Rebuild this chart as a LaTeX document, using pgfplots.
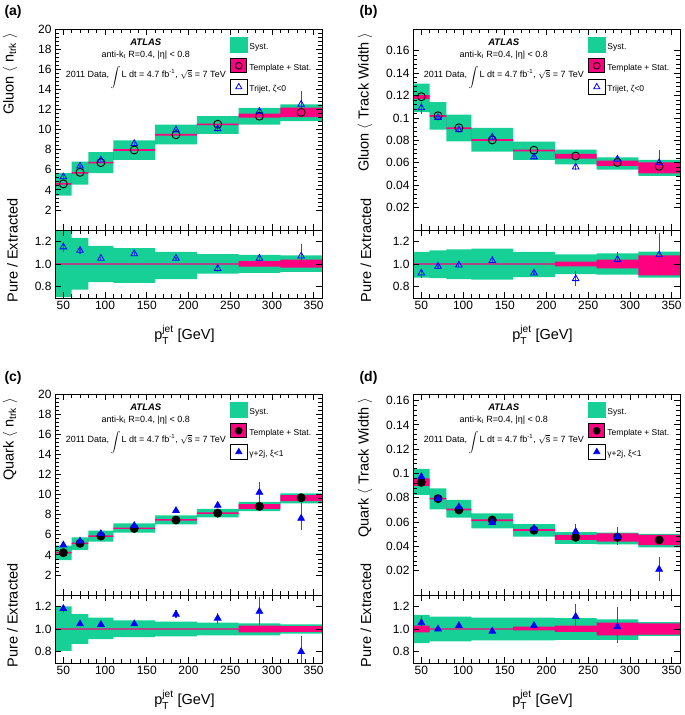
\documentclass[border=0pt]{standalone}
\usepackage{amsmath}
\usepackage{pgfplots}
\pgfplotsset{compat=1.18}
\usepackage{pgfplotstable}
\usepgfplotslibrary{fillbetween}
\usepackage{fontspec}
\setmainfont{Liberation Sans}
\definecolor{syst}{RGB}{22,208,150}
\definecolor{stat}{RGB}{255,0,128}
\definecolor{tri}{RGB}{0,0,255}
\definecolor{trierr}{RGB}{45,65,255}

% ---------- Gluon n_trk ----------
\pgfplotstableread{
e    slo    shi    tlo    thi
40   3.43   5.67   4.52   4.68
60   4.53   6.83   5.62   5.78
80   5.67   7.77   6.64   6.80
110  7.00   8.93   7.90   8.06
160  8.53   10.50  9.42   9.58
210  9.60   11.37  10.45  10.61
260  10.50  12.17  11.20  11.60
310  10.87  12.53  11.27  12.20
360  10.87  12.53  11.27  12.20
}\bandA
\pgfplotstableread{
x    m      p      pp    pm
50   4.60   5.30   0.20  0.20
70   5.75   6.37   0.15  0.15
95   6.72   6.98   0.12  0.12
135  7.98   8.62   0.15  0.15
185  9.50   9.97   0.15  0.15
235  10.55  10.10  0.35  0.30
285  11.35  11.83  0.35  0.30
335  11.73  12.53  1.30  1.10
}\ptsA
\pgfplotstableread{
e    slo    shi    tlo    thi
40   0.710  1.290  0.994  1.006
60   0.773  1.230  0.994  1.006
80   0.840  1.160  0.994  1.006
110  0.833  1.139  0.994  1.006
160  0.866  1.108  0.994  1.006
210  0.916  1.087  0.994  1.006
260  0.922  1.080  0.977  1.026
310  0.930  1.077  0.968  1.038
360  0.930  1.077  0.968  1.038
}\rbandA
\pgfplotstableread{
x    p     pp     pm
50   1.15  0.045  0.045
70   1.12  0.030  0.030
95   1.05  0.015  0.015
135  1.09  0.015  0.015
185  1.05  0.015  0.015
235  0.96  0.035  0.035
285  1.05  0.035  0.030
335  1.07  0.110  0.090
}\rptsA

% ---------- Gluon track width ----------
\pgfplotstableread{
e    slo     shi     tlo     thi
40   0.1053  0.1307  0.1170  0.1205
60   0.0897  0.1142  0.1009  0.1025
80   0.0792  0.1029  0.0901  0.0917
110  0.0700  0.0912  0.0796  0.0812
160  0.0625  0.0789  0.0701  0.0717
210  0.0586  0.0718  0.0637  0.0679
260  0.0538  0.0649  0.0572  0.0620
310  0.0484  0.0625  0.0505  0.0604
360  0.0484  0.0625  0.0505  0.0604
}\bandB
\pgfplotstableread{
x    m       p       pp      pm
50   0.1190  0.1090  0.0050  0.0050
70   0.1020  0.1003  0.0015  0.0015
95   0.0912  0.0894  0.0015  0.0015
135  0.0804  0.0828  0.0020  0.0020
185  0.0712  0.0652  0.0015  0.0015
235  0.0660  0.0562  0.0030  0.0030
285  0.0603  0.0632  0.0035  0.0035
335  0.0568  0.0600  0.0115  0.0065
}\ptsB
\pgfplotstableread{
e    slo    shi    tlo    thi
40   0.879  1.108  0.994  1.006
60   0.876  1.120  0.994  1.006
80   0.867  1.130  0.994  1.006
110  0.861  1.136  0.994  1.006
160  0.885  1.108  0.994  1.006
210  0.910  1.084  0.978  1.020
260  0.907  1.093  0.962  1.038
310  0.879  1.110  0.900  1.075
360  0.879  1.110  0.900  1.075
}\rbandB
\pgfplotstableread{
x    p     pp     pm
50   0.92  0.040  0.040
70   0.98  0.020  0.020
95   0.99  0.015  0.015
135  1.03  0.020  0.020
185  0.92  0.020  0.020
235  0.87  0.065  0.060
285  1.04  0.070  0.070
335  1.08  0.190  0.180
}\rptsB

% ---------- Quark n_trk ----------
\pgfplotstableread{
e    slo    shi    tlo    thi
40   3.49   4.92   4.15   4.29
60   4.49   5.75   5.08   5.22
80   5.32   6.41   5.81   5.95
110  6.21   7.14   6.59   6.73
160  7.04   7.94   7.42   7.56
210  7.74   8.60   8.10   8.24
260  8.37   9.30   8.60   9.07
310  9.14   10.13  9.37   9.97
360  9.14   10.13  9.37   9.97
}\bandC
\pgfplotstableread{
x    m      p      pp    pm
50   4.22   4.98   0.15  0.15
70   5.15   5.38   0.15  0.15
95   5.88   6.12   0.12  0.12
135  6.64   6.92   0.12  0.12
185  7.48   8.41   0.15  0.15
235  8.17   8.94   0.36  0.30
285  8.84   10.23  1.07  1.09
335  9.70   7.64   2.16  1.16
}\ptsC
\pgfplotstableread{
e    slo    shi    tlo    thi
40   0.806  1.200  0.994  1.006
60   0.869  1.131  0.994  1.006
80   0.911  1.100  0.994  1.006
110  0.929  1.077  0.994  1.006
160  0.935  1.065  0.994  1.006
210  0.944  1.056  0.994  1.006
260  0.944  1.050  0.970  1.030
310  0.960  1.040  0.974  1.026
360  0.960  1.040  0.974  1.026
}\rbandC
\pgfplotstableread{
x    p      pp     pm
50   1.180  0.030  0.035
70   1.045  0.015  0.015
95   1.040  0.015  0.015
135  1.045  0.015  0.015
185  1.130  0.035  0.030
235  1.095  0.050  0.055
285  1.155  0.130  0.120
335  0.800  0.140  0.180
}\rptsC

% ---------- Quark track width ----------
\pgfplotstableread{
e    slo     shi     tlo     thi
40   0.0823  0.1037  0.0897  0.0960
60   0.0705  0.0878  0.0786  0.0800
80   0.0637  0.0782  0.0696  0.0710
110  0.0549  0.0672  0.0608  0.0622
160  0.0480  0.0584  0.0528  0.0542
210  0.0420  0.0518  0.0453  0.0494
260  0.0417  0.0513  0.0439  0.0507
310  0.0392  0.0502  0.0411  0.0494
360  0.0392  0.0502  0.0411  0.0494
}\bandD
\pgfplotstableread{
x    m       p       pp      pm
50   0.0927  0.0974  0.0040  0.0040
70   0.0793  0.0793  0.0015  0.0015
95   0.0700  0.0725  0.0015  0.0015
135  0.0617  0.0597  0.0015  0.0015
185  0.0533  0.0549  0.0015  0.0015
235  0.0475  0.0521  0.0060  0.0063
285  0.0475  0.0480  0.0082  0.0069
335  0.0453  0.0211  0.0104  0.0093
}\ptsD
\pgfplotstableread{
e    slo    shi    tlo    thi
40   0.875  1.125  0.970  1.030
60   0.890  1.110  0.994  1.006
80   0.890  1.110  0.994  1.006
110  0.900  1.100  0.994  1.006
160  0.900  1.100  0.987  1.020
210  0.905  1.095  0.974  1.030
260  0.905  1.086  0.944  1.056
310  0.940  1.060  0.950  1.050
360  0.940  1.060  0.950  1.050
}\rbandD
\pgfplotstableread{
x    p      pp     pm
50   1.055  0.060  0.045
70   1.000  0.020  0.020
95   1.030  0.015  0.015
135  0.980  0.015  0.015
185  1.030  0.025  0.025
235  1.110  0.110  0.095
285  1.020  0.170  0.145
335  0.470  0.200  0.200
}\rptsD

\pgfplotsset{
  base/.style={scale only axis, width=267pt, xmin=40, xmax=360,
    anchor=north west, axis on top,
    axis line style={line width=0.9pt},
    tick style={black, line width=0.8pt},
    major tick length=6pt, minor tick length=4pt,
    xtick={50,100,...,350}, minor x tick num=4,
    tick align=inside, scaled ticks=false,
    /pgf/number format/assume math mode=true,
    tick label style={font=\fontsize{12}{12}\selectfont},
    label style={font=\fontsize{14.5}{15}\selectfont},
  },
  mainax/.style={base, height=200.5pt, xticklabel=\empty, minor y tick num=4,
    ylabel style={anchor=east},
    legend cell align=left,
    legend style={at={(axis description cs:0.655,0.963)}, anchor=north west,
      draw=none, fill=none, inner sep=0pt, row sep=5pt,
      font=\fontsize{8.5}{9}\selectfont},
  },
  ratioax/.style={base, height=68pt, ymin=0.7, ymax=1.3, ytick={0.8,1,1.2},
    yticklabel style={/pgf/number format/.cd, fixed, fixed zerofill, precision=1},
    ylabel={Pure / Extracted},
    ylabel style={anchor=west},
    xlabel={p$_{\text{T}}^{\text{jet}}$ [GeV]},
    xlabel style={at={(axis description cs:0.485,0)}, anchor=base, yshift=-42pt},
  },
}

\newcommand{\bands}[1]{%
  \addplot[const plot, draw=none, name path=su, forget plot] table[x=e,y=shi]{#1};
  \addplot[const plot, draw=none, name path=sl, forget plot] table[x=e,y=slo]{#1};
  \addplot[syst, forget plot] fill between[of=su and sl];
  \addplot[const plot, draw=none, name path=tu, forget plot] table[x=e,y=thi]{#1};
  \addplot[const plot, draw=none, name path=tl, forget plot] table[x=e,y=tlo]{#1};
  \addplot[stat, forget plot] fill between[of=tu and tl];
}
\newcommand{\tris}[2]{%
  \addplot[only marks, color=tri, mark=#2, mark size=3.8pt,
    mark options={line width=0.8pt, fill=tri, draw=tri},
    error bars/.cd, y dir=both, y explicit, error mark=none,
    error bar style={draw=trierr, solid, line width=1.1pt}]
    table[x=x, y=p, y error plus=pp, y error minus=pm]{#1};
}
\newcommand{\circs}[2]{%
  \addplot[only marks, black, mark=#2, mark size=4pt,
    mark options={line width=0.9pt, fill=black}] table[x=x, y=m]{#1};
}
\newcommand{\legs}[3]{% #1 circle mark, #2 triangle mark, #3 text
  \addlegendimage{legend image code/.code={\fill[syst] (0pt,-4.8pt) rectangle (17pt,10.2pt);}}
  \addlegendentry{Syst.}
  \addlegendimage{legend image code/.code={\filldraw[fill=stat,draw=black,line width=1pt] (0.5pt,-4.3pt) rectangle (16.5pt,9.7pt);
     \draw[black, line width=0.9pt, fill=black] plot[only marks, mark=#1, mark size=3.3pt] coordinates {(8.5pt,2.7pt)};}}
  \addlegendentry{Template + Stat.}
  \addlegendimage{legend image code/.code={\path (0pt,-4.8pt) rectangle (17pt,10.2pt);
     \draw[tri, line width=0.8pt, fill=tri] plot[only marks, mark=#2, mark size=3.5pt] coordinates {(8.5pt,2.7pt)};}}
  \addlegendentry{#3}
}
\newcommand{\atlas}{%
  \node[anchor=base, font=\fontsize{9.5}{10}\selectfont\bfseries\itshape] at (axis description cs:0.34,0.918) {ATLAS};
  \node[anchor=base, font=\fontsize{9}{10}\selectfont, inner sep=0pt] at (axis description cs:0.34,0.862) {anti-k\textsubscript{t} R=0.4, |η| < 0.8};
  \node[anchor=base, font=\fontsize{9}{10}\selectfont, inner sep=0pt] at (axis description cs:0.34,0.760) {2011 Data, \hspace{-1pt}\raisebox{-2.5pt}{\fontsize{10}{10}\selectfont$\displaystyle\int$}\hspace{1pt}L dt = 4.7 fb\textsuperscript{-1}, $\sqrt{\text{s}}$ = 7 TeV};
}

\begin{document}
\begin{tikzpicture}
\node[anchor=base west, font=\fontsize{14}{14}\selectfont\bfseries] at (1pt,699.7pt) {(a)};
\node[anchor=base west, font=\fontsize{14}{14}\selectfont\bfseries] at (356pt,699.7pt) {(b)};
\node[anchor=base west, font=\fontsize{14}{14}\selectfont\bfseries] at (1pt,333pt) {(c)};
\node[anchor=base west, font=\fontsize{14}{14}\selectfont\bfseries] at (356pt,333pt) {(d)};

% (a) main
\begin{axis}[mainax, at={(55pt,685.5pt)}, ymin=0, ymax=20, ytick={2,4,...,20},
  ylabel={Gluon $\langle$ n\textsubscript{trk} $\rangle$},
  ylabel style={at={(axis description cs:-0.1685,1)}}]
  \legs{o}{triangle}{Trijet, ζ<0}
  \bands{\bandA}
  \circs{\ptsA}{o}
  \tris{\ptsA}{triangle}
  \atlas
\end{axis}
% (a) ratio
\begin{axis}[ratioax, at={(55pt,485pt)},
  ylabel style={at={(axis description cs:-0.159,-0.118)}}]
  \bands{\rbandA}
  \tris{\rptsA}{triangle}
\end{axis}

% (b) main
\begin{axis}[mainax, at={(413pt,685.5pt)}, ymin=0, ymax=0.179,
  ytick={0.02,0.04,0.06,0.08,0.1,0.12,0.14,0.16},
  yticklabel style={/pgf/number format/.cd, fixed, precision=2},
  ylabel={Gluon $\langle$ Track Width $\rangle$},
  ylabel style={at={(axis description cs:-0.18,1)}}]
  \legs{o}{triangle}{Trijet, ζ<0}
  \bands{\bandB}
  \circs{\ptsB}{o}
  \tris{\ptsB}{triangle}
  \atlas
\end{axis}
% (b) ratio
\begin{axis}[ratioax, at={(413pt,485pt)},
  ylabel style={at={(axis description cs:-0.176,-0.118)}}]
  \bands{\rbandB}
  \tris{\rptsB}{triangle}
\end{axis}

% (c) main
\begin{axis}[mainax, at={(55pt,320.5pt)}, ymin=0, ymax=20, ytick={2,4,...,20},
  ylabel={Quark $\langle$ n\textsubscript{trk} $\rangle$},
  ylabel style={at={(axis description cs:-0.1685,1)}}]
  \legs{*}{triangle*}{γ+2j, ξ<1}
  \bands{\bandC}
  \circs{\ptsC}{*}
  \tris{\ptsC}{triangle*}
  \atlas
\end{axis}
% (c) ratio
\begin{axis}[ratioax, at={(55pt,120pt)},
  ylabel style={at={(axis description cs:-0.159,-0.118)}}]
  \bands{\rbandC}
  \tris{\rptsC}{triangle*}
\end{axis}

% (d) main
\begin{axis}[mainax, at={(413pt,320.5pt)}, ymin=0, ymax=0.165,
  ytick={0.02,0.04,0.06,0.08,0.1,0.12,0.14,0.16},
  yticklabel style={/pgf/number format/.cd, fixed, precision=2},
  ylabel={Quark $\langle$ Track Width $\rangle$},
  ylabel style={at={(axis description cs:-0.18,1)}}]
  \legs{*}{triangle*}{γ+2j, ξ<1}
  \bands{\bandD}
  \circs{\ptsD}{*}
  \tris{\ptsD}{triangle*}
  \atlas
\end{axis}
% (d) ratio
\begin{axis}[ratioax, at={(413pt,120pt)},
  ylabel style={at={(axis description cs:-0.176,-0.118)}}]
  \bands{\rbandD}
  \tris{\rptsD}{triangle*}
\end{axis}
\pgfresetboundingbox
\path[use as bounding box] (0pt,0pt) rectangle (685pt,715pt);
\end{tikzpicture}
\end{document}
